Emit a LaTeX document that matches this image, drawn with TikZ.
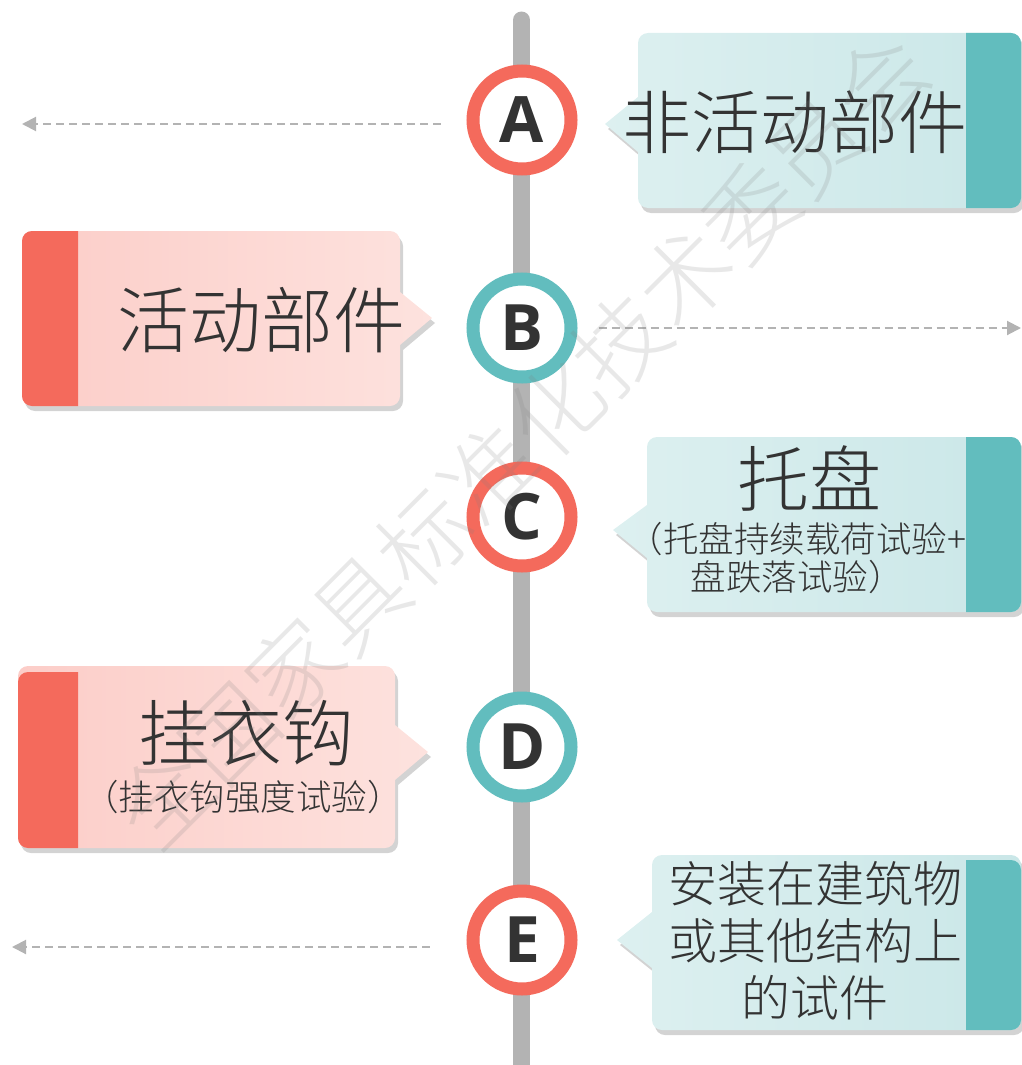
\documentclass[tikz,border=0pt]{standalone}
\usepackage{fontspec}
\newfontfamily\cjk{Noto Sans CJK SC Light}
\newfontfamily\letterfont{Open Sans}
\usetikzlibrary{shadows,arrows.meta}
\definecolor{redc}{HTML}{F46A5C}
\definecolor{tealc}{HTML}{62BDBE}
\definecolor{linec}{HTML}{B3B3B3}
\definecolor{txtc}{HTML}{333333}
\definecolor{pinkL}{HTML}{FCCDC8}
\definecolor{pinkR}{HTML}{FDE2DE}
\definecolor{tealL}{HTML}{DDF0F0}
\definecolor{tealR}{HTML}{CAE7E8}
\begin{document}
\begin{tikzpicture}[x=1pt,y=-1pt,
  circ/.style={circle, draw=#1, line width=13pt, fill=white, minimum size=98pt,
    inner sep=0pt, text=txtc, font=\letterfont\bfseries\fontsize{64}{64}\selectfont,
    drop shadow={shadow xshift=2pt, shadow yshift=-3pt, opacity=0.25}},
  pinkbox/.style={left color=pinkL, right color=pinkR,
    drop shadow={shadow xshift=3pt, shadow yshift=-5pt, opacity=0.35}},
  tealbox/.style={left color=tealL, right color=tealR,
    drop shadow={shadow xshift=3pt, shadow yshift=-5pt, opacity=0.35}},
  big/.style={text=txtc, font=\cjk\fontsize{#1}{#1}\selectfont, inner sep=0pt},
  small/.style={text=txtc, font=\cjk\fontsize{35.5}{38}\selectfont, inner sep=0pt, align=center},
  dasharrow/.style={draw=linec, line width=2pt, dash pattern=on 8pt off 5pt,
    -{Triangle[length=14pt,width=14pt]}}
]
\useasboundingbox (0,0) rectangle (1022,1065);
% timeline
\coordinate (lt) at (521.5,20);
\coordinate (lb) at (521.5,1075);
\draw[linec, line width=17pt, line cap=round] (lt) -- (lb);

% Box A
\path[tealbox] (638,97) [rounded corners=10] -- (638,33) -- (1021,33) -- (1021,208) -- (638,208) [sharp corners] -- (638,152) -- (605,124) -- cycle;
\fill[tealc] (966,33) [rounded corners=10] -- (1021,33) -- (1021,208) [sharp corners] -- (966,208) -- cycle;
\node[big=69] (tA) at (795,122) {非活动部件};

% Box B
\path[pinkbox] (400,292) [rounded corners=10] -- (400,231) -- (22,231) -- (22,406) -- (400,406) [sharp corners] -- (400,345) -- (432,318) -- cycle;
\fill[redc] (78,231) [rounded corners=10] -- (22,231) -- (22,406) [sharp corners] -- (78,406) -- cycle;
\node[big=72] (tB) at (261,320) {活动部件};

% Box C
\path[tealbox] (647,505) [rounded corners=10] -- (647,437) -- (1021,437) -- (1021,612) -- (647,612) [sharp corners] -- (647,558) -- (613,530) -- cycle;
\fill[tealc] (966,437) [rounded corners=10] -- (1021,437) -- (1021,612) [sharp corners] -- (966,612) -- cycle;
\node[big=72] (tC) at (809,478) {托盘};
\node[small] (sC) at (797,558) {（托盘持续载荷试验+\\盘跌落试验）};

% Box D
\path[pinkbox] (395,725) [rounded corners=10] -- (395,666) -- (18,666) -- (18,848) -- (395,848) [sharp corners] -- (395,780) -- (428,752) -- cycle;
\fill[redc] (78,672) [rounded corners=10] -- (18,672) -- (18,848) [sharp corners] -- (78,848) -- cycle;
\node[big=72] (tD) at (246,733) {挂衣钩};
\node[small] (sD) at (243,797) {（挂衣钩强度试验）};

% Box E
\path[tealbox] (652,912) [rounded corners=10] -- (652,855) -- (1021,855) -- (1021,1030) -- (652,1030) [sharp corners] -- (652,968) -- (617,940) -- cycle;
\fill[tealc] (966,860) [rounded corners=10] -- (1021,860) -- (1021,1030) [sharp corners] -- (966,1030) -- cycle;
\node[big=49, align=center, font=\cjk\fontsize{49}{57}\selectfont] (tE) at (815,941) {安装在建筑物\\或其他结构上\\的试件};

% circles
\node[circ=redc] (A) at (522,120) {A};
\node[circ=tealc] (B) at (522,328) {B};
\node[circ=redc] (C) at (522,517) {C};
\node[circ=tealc] (D) at (522,747) {D};
\node[circ=redc] (E) at (522,940) {E};

% dashed arrows
\coordinate (eA) at (22,124);
\coordinate (eB) at (1021,328);
\coordinate (eE) at (12,947);
\draw[dasharrow] ([xshift=-26pt,yshift=-4pt]A.west) -- (eA);
\draw[dasharrow] ([xshift=21pt]B.east) -- (eB);
\draw[dasharrow] ([xshift=-37pt,yshift=-7pt]E.west) -- (eE);

% watermark
\node[rotate=45, text=gray, opacity=0.18, font=\cjk\fontsize{92}{92}\selectfont, inner sep=0pt] (wm) at (522,440) {全国家具标准化技术委员会};
\end{tikzpicture}
\end{document}
